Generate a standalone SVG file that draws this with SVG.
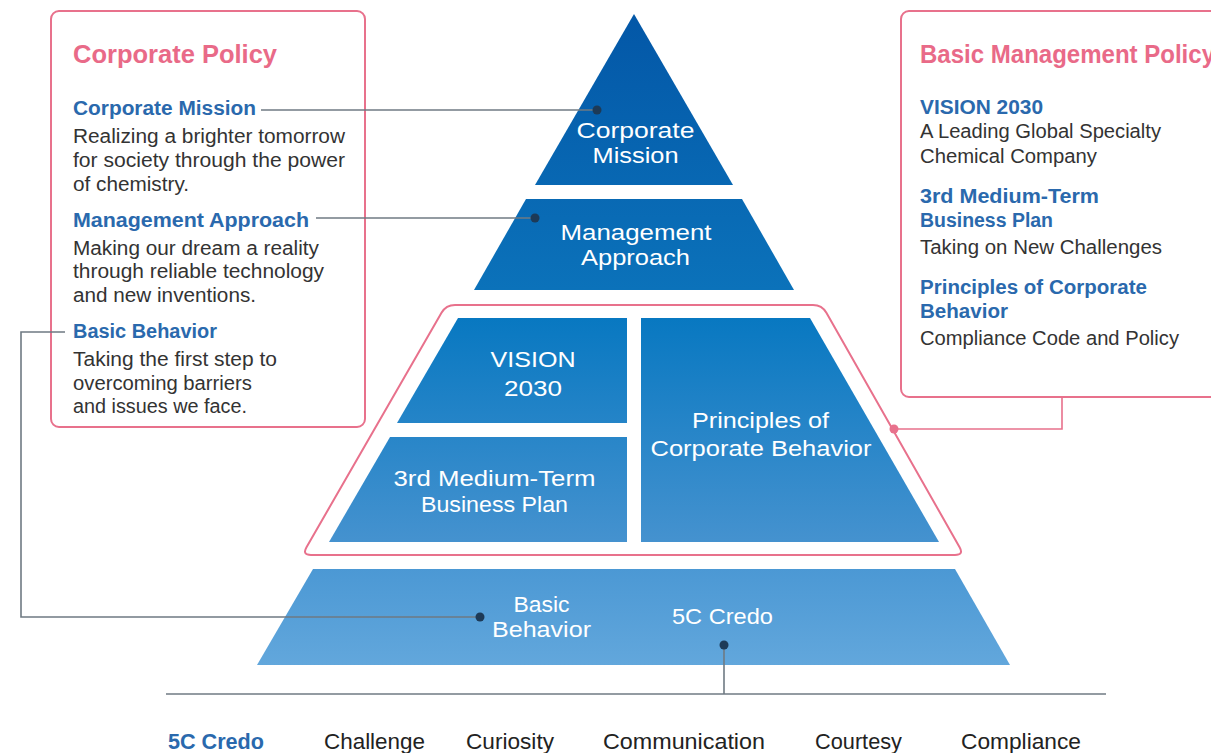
<svg xmlns="http://www.w3.org/2000/svg" width="1211" height="753" viewBox="0 0 1211 753">
<style>
.box{fill:#fff;stroke:#e8718c;stroke-width:2}
text{font-family:"Liberation Sans",Arial,sans-serif}
.title{font-size:26px;font-weight:bold;fill:#e96a88}
.head{font-size:19.5px;font-weight:bold;fill:#2a69ad}
.body{font-size:19.5px;fill:#333}
.pyr{font-size:22px;fill:#fff;text-anchor:middle}
.row{font-size:21.5px;fill:#222}
.conn{stroke:#6f7a83;stroke-width:1.6;fill:none}
.pconn{stroke:#e8718c;stroke-width:1.6;fill:none}
.dot{fill:#1d3a57}
</style>
<defs>
<linearGradient id="pg" gradientUnits="userSpaceOnUse" x1="0" y1="14" x2="0" y2="665">
<stop offset="0" stop-color="#0357a7"/>
<stop offset="0.424" stop-color="#0b72ba"/>
<stop offset="0.467" stop-color="#0878c1"/>
<stop offset="0.811" stop-color="#4592cf"/>
<stop offset="0.85" stop-color="#4b98d4"/>
<stop offset="1" stop-color="#62a7dc"/>
</linearGradient>
</defs>

<g id="corporate-policy">
<rect class="box" x="51" y="11" width="314" height="416" rx="8"/>
<text class="title" x="73" y="63" textLength="204" lengthAdjust="spacingAndGlyphs">Corporate Policy</text>
<text class="head" x="73" y="115" textLength="183" lengthAdjust="spacingAndGlyphs">Corporate Mission</text>
<text class="body" x="73" y="143" textLength="272" lengthAdjust="spacingAndGlyphs">Realizing a brighter tomorrow</text>
<text class="body" x="73" y="167" textLength="272" lengthAdjust="spacingAndGlyphs">for society through the power</text>
<text class="body" x="73" y="191" textLength="116" lengthAdjust="spacingAndGlyphs">of chemistry.</text>
<text class="head" x="73" y="227" textLength="236" lengthAdjust="spacingAndGlyphs">Management Approach</text>
<text class="body" x="73" y="255" textLength="246" lengthAdjust="spacingAndGlyphs">Making our dream a reality</text>
<text class="body" x="73" y="278" textLength="251" lengthAdjust="spacingAndGlyphs">through reliable technology</text>
<text class="body" x="73" y="302" textLength="183" lengthAdjust="spacingAndGlyphs">and new inventions.</text>
<text class="head" x="73" y="338" textLength="144" lengthAdjust="spacingAndGlyphs">Basic Behavior</text>
<text class="body" x="73" y="366" textLength="204" lengthAdjust="spacingAndGlyphs">Taking the first step to</text>
<text class="body" x="73" y="390" textLength="179" lengthAdjust="spacingAndGlyphs">overcoming barriers</text>
<text class="body" x="73" y="413" textLength="174" lengthAdjust="spacingAndGlyphs">and issues we face.</text>
</g>

<g id="basic-management-policy">
<rect class="box" x="901" y="11" width="400" height="386" rx="8"/>
<text class="title" x="920" y="63" textLength="295" lengthAdjust="spacingAndGlyphs">Basic Management Policy</text>
<text class="head" x="920" y="114" textLength="123" lengthAdjust="spacingAndGlyphs">VISION 2030</text>
<text class="body" x="920" y="138" textLength="241" lengthAdjust="spacingAndGlyphs">A Leading Global Specialty</text>
<text class="body" x="920" y="163" textLength="177" lengthAdjust="spacingAndGlyphs">Chemical Company</text>
<text class="head" x="920" y="203" textLength="179" lengthAdjust="spacingAndGlyphs">3rd Medium-Term</text>
<text class="head" x="920" y="227" textLength="133" lengthAdjust="spacingAndGlyphs">Business Plan</text>
<text class="body" x="920" y="254" textLength="242" lengthAdjust="spacingAndGlyphs">Taking on New Challenges</text>
<text class="head" x="920" y="294" textLength="227" lengthAdjust="spacingAndGlyphs">Principles of Corporate</text>
<text class="head" x="920" y="318" textLength="88" lengthAdjust="spacingAndGlyphs">Behavior</text>
<text class="body" x="920" y="345" textLength="259" lengthAdjust="spacingAndGlyphs">Compliance Code and Policy</text>
</g>

<g id="corporate-mission">
<polygon points="634,14 733,185 535,185" fill="url(#pg)"/>
<text class="pyr" x="635.5" y="138" textLength="118" lengthAdjust="spacingAndGlyphs">Corporate</text>
<text class="pyr" x="635.5" y="163" textLength="86" lengthAdjust="spacingAndGlyphs">Mission</text>
</g>

<g id="management-approach">
<polygon points="526,199 742,199 794,290 474,290" fill="url(#pg)"/>
<text class="pyr" x="636" y="240" textLength="151" lengthAdjust="spacingAndGlyphs">Management</text>
<text class="pyr" x="635.5" y="265" textLength="109" lengthAdjust="spacingAndGlyphs">Approach</text>
</g>

<g id="basic-management-frame">
<path class="box" fill="none" d="M441.5,312.8 Q446,305 455,305 L813,305 Q822,305 826.4,312.8 L959.6,547.2 Q964,555 955,555 L311,555 Q302,555 306.5,547.2 Z"/>
</g>

<g id="vision-2030">
<polygon points="458,318 627,318 627,423 397,423" fill="url(#pg)"/>
<text class="pyr" x="533" y="367" textLength="85" lengthAdjust="spacingAndGlyphs">VISION</text>
<text class="pyr" x="533" y="396" textLength="58" lengthAdjust="spacingAndGlyphs">2030</text>
</g>

<g id="medium-term-plan">
<polygon points="390,437 627,437 627,542 329,542" fill="url(#pg)"/>
<text class="pyr" x="494.5" y="486" textLength="202" lengthAdjust="spacingAndGlyphs">3rd Medium-Term</text>
<text class="pyr" x="494.5" y="512" textLength="147" lengthAdjust="spacingAndGlyphs">Business Plan</text>
</g>

<g id="principles">
<polygon points="641,318 810,318 939,542 641,542" fill="url(#pg)"/>
<text class="pyr" x="760.5" y="428" textLength="137" lengthAdjust="spacingAndGlyphs">Principles of</text>
<text class="pyr" x="761" y="456" textLength="221" lengthAdjust="spacingAndGlyphs">Corporate Behavior</text>
</g>

<g id="basic-behavior">
<polygon points="313,569 955,569 1010,665 257,665" fill="url(#pg)"/>
<text class="pyr" x="541.5" y="612" textLength="56" lengthAdjust="spacingAndGlyphs">Basic</text>
<text class="pyr" x="541.5" y="637" textLength="99" lengthAdjust="spacingAndGlyphs">Behavior</text>
<text class="pyr" x="722.5" y="624" textLength="101" lengthAdjust="spacingAndGlyphs">5C Credo</text>
</g>

<g id="connectors">
<polyline class="conn" points="261,110 597,110"/>
<circle class="dot" cx="597" cy="110" r="4.5"/>
<polyline class="conn" points="316,218 535,218"/>
<circle class="dot" cx="535" cy="218" r="4.5"/>
<polyline class="conn" points="65,332 21,332 21,617 480,617"/>
<circle class="dot" cx="480" cy="617" r="4.5"/>
<polyline class="conn" points="724,645 724,694"/>
<circle class="dot" cx="724" cy="645" r="4.5"/>
<line class="conn" x1="166" y1="694" x2="1106" y2="694" stroke-width="2"/>
<polyline class="pconn" points="1062,397 1062,429 894,429"/>
<circle cx="894" cy="429" r="4.5" fill="#e8718c"/>
</g>

<g id="credo-row">
<text class="row" x="168" y="749" textLength="96" lengthAdjust="spacingAndGlyphs" font-weight="bold" style="fill:#2a69ad">5C Credo</text>
<text class="row" x="324" y="749" textLength="101" lengthAdjust="spacingAndGlyphs">Challenge</text>
<text class="row" x="466" y="749" textLength="88" lengthAdjust="spacingAndGlyphs">Curiosity</text>
<text class="row" x="603" y="749" textLength="162" lengthAdjust="spacingAndGlyphs">Communication</text>
<text class="row" x="815" y="749" textLength="87" lengthAdjust="spacingAndGlyphs">Courtesy</text>
<text class="row" x="961" y="749" textLength="120" lengthAdjust="spacingAndGlyphs">Compliance</text>
</g>
</svg>
